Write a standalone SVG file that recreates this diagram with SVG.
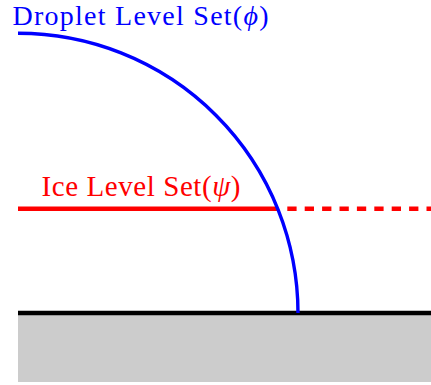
<svg xmlns="http://www.w3.org/2000/svg" width="431" height="385" viewBox="0 0 431 385">
  <style>
    .lbl { font-family: "Liberation Serif", "Times New Roman", serif; font-size: 29px; }
    .top { font-size: 28px; }
    .sym { font-style: italic; }
  </style>
  <rect x="0" y="0" width="431" height="385" fill="#ffffff"/>
  <g id="substrate">
    <rect x="18" y="313" width="413" height="69" fill="#cccccc"/>
    <line x1="18" y1="313" x2="431" y2="313" stroke="#000000" stroke-width="4.5"/>
  </g>
  <g id="ice-level-set">
    <line x1="18" y1="208.8" x2="278" y2="208.8" stroke="#ff0000" stroke-width="4.5"/>
    <line x1="287.3" y1="208.8" x2="431" y2="208.8" stroke="#ff0000" stroke-width="4.5" stroke-dasharray="9.3 8.1"/>
    <text class="lbl" x="41.5" y="196" fill="#ff0000" textLength="199" lengthAdjust="spacing">Ice Level Set(<tspan class="sym">ψ</tspan>)</text>
  </g>
  <g id="droplet-level-set">
    <path d="M 18 33.3 A 280 280 0 0 1 298 313" fill="none" stroke="#0000ff" stroke-width="3.4"/>
    <text class="lbl top" x="12.5" y="25" fill="#0000ff" textLength="256" lengthAdjust="spacing">Droplet Level Set(<tspan class="sym">ϕ</tspan>)</text>
  </g>
</svg>
